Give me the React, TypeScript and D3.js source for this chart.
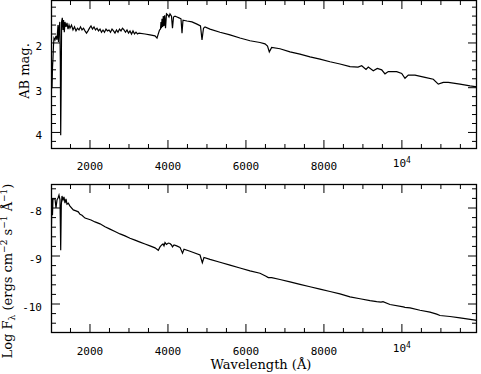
import React from "react";
import * as d3 from "d3";

// upper panel: AB magnitude vs wavelength (Angstrom)
const topWave = [1013, 1026, 1038, 1051, 1064, 1077, 1103, 1128, 1154, 1167, 1180, 1192, 1205, 1226, 1239, 1249, 1262, 1272, 1290, 1308, 1323, 1341, 1359, 1385, 1410, 1436, 1462, 1487, 1526, 1564, 1603, 1641, 1680, 1718, 1757, 1795, 1834, 1872, 1911, 1949, 1987, 2026, 2064, 2103, 2141, 2180, 2218, 2257, 2295, 2334, 2372, 2411, 2449, 2488, 2526, 2565, 2603, 2641, 2680, 2718, 2757, 2795, 2834, 2872, 2911, 2949, 2988, 3026, 3065, 3103, 3142, 3180, 3219, 3257, 3411, 3539, 3667, 3719, 3744, 3783, 3808, 3821, 3834, 3847, 3865, 3880, 3898, 3916, 3937, 3962, 4001, 4026, 4052, 4090, 4116, 4142, 4180, 4232, 4283, 4334, 4360, 4385, 4488, 4616, 4744, 4834, 4873, 4911, 4950, 5078, 5334, 5591, 5847, 6104, 6360, 6488, 6553, 6599, 6660, 6873, 7130, 7386, 7643, 7899, 8156, 8412, 8669, 8874, 8969, 9079, 9138, 9266, 9369, 9482, 9566, 9651, 9866, 9995, 10079, 10164, 10336, 10592, 10805, 10933, 11062, 11190, 11490, 11747, 11926];
const topMag = [2.43, 3.01, 2.56, 2.34, 2.05, 1.89, 1.93, 1.84, 1.93, 1.76, 1.60, 1.98, 1.71, 1.53, 2.38, 4.06, 2.83, 1.53, 1.44, 1.71, 1.49, 1.76, 1.53, 1.64, 1.55, 1.69, 1.60, 1.67, 1.60, 1.71, 1.64, 1.73, 1.67, 1.71, 1.64, 1.71, 1.67, 1.73, 1.78, 1.73, 1.67, 1.62, 1.69, 1.64, 1.71, 1.67, 1.73, 1.69, 1.76, 1.71, 1.76, 1.69, 1.73, 1.71, 1.76, 1.69, 1.73, 1.78, 1.71, 1.76, 1.69, 1.73, 1.67, 1.71, 1.76, 1.71, 1.78, 1.73, 1.80, 1.73, 1.80, 1.76, 1.80, 1.78, 1.80, 1.82, 1.84, 1.89, 1.82, 1.71, 1.69, 1.53, 1.67, 1.46, 1.64, 1.40, 1.62, 1.38, 1.67, 1.35, 1.38, 1.42, 1.35, 1.40, 1.67, 1.42, 1.40, 1.42, 1.44, 1.46, 1.78, 1.49, 1.51, 1.53, 1.58, 1.62, 1.93, 1.67, 1.64, 1.69, 1.76, 1.82, 1.89, 1.95, 1.99, 2.02, 2.07, 2.20, 2.10, 2.13, 2.20, 2.25, 2.31, 2.36, 2.42, 2.47, 2.53, 2.54, 2.51, 2.59, 2.54, 2.62, 2.57, 2.60, 2.69, 2.64, 2.64, 2.68, 2.79, 2.72, 2.72, 2.77, 2.81, 2.92, 2.88, 2.88, 2.92, 2.96, 2.98];

// lower panel: log F_lambda vs wavelength
const botWave = [1013, 1020, 1038, 1051, 1103, 1128, 1154, 1180, 1205, 1231, 1249, 1264, 1282, 1308, 1333, 1359, 1385, 1410, 1444, 1487, 1572, 1641, 1700, 1744, 1795, 1872, 1949, 2026, 2129, 2257, 2385, 2513, 2641, 2770, 2898, 3026, 3154, 3283, 3411, 3539, 3667, 3752, 3796, 3839, 3873, 3898, 3924, 3962, 4009, 4052, 4090, 4116, 4155, 4224, 4309, 4373, 4411, 4565, 4822, 4881, 4924, 5078, 5334, 5591, 5847, 6104, 6360, 6514, 6573, 6660, 6873, 7130, 7386, 7643, 7899, 8156, 8412, 8669, 8925, 9182, 9353, 9464, 9515, 9694, 10036, 10079, 10208, 10464, 10720, 10892, 10977, 11233, 11490, 11926];
const botFlux = [-8.35, -7.79, -8.15, -7.81, -7.81, -8.00, -7.83, -7.79, -7.73, -7.83, -8.88, -7.94, -7.75, -7.83, -7.77, -7.90, -7.81, -7.92, -7.90, -7.96, -8.04, -8.06, -8.08, -8.13, -8.15, -8.21, -8.23, -8.25, -8.29, -8.33, -8.39, -8.44, -8.49, -8.54, -8.58, -8.63, -8.67, -8.71, -8.75, -8.79, -8.83, -8.88, -8.81, -8.77, -8.75, -8.79, -8.72, -8.76, -8.73, -8.74, -8.77, -8.81, -8.77, -8.79, -8.82, -8.94, -8.86, -8.90, -8.98, -9.14, -9.03, -9.07, -9.13, -9.19, -9.25, -9.31, -9.36, -9.42, -9.45, -9.45, -9.49, -9.54, -9.59, -9.64, -9.69, -9.74, -9.79, -9.85, -9.89, -9.93, -9.95, -9.96, -9.95, -10.01, -10.06, -10.07, -10.08, -10.13, -10.17, -10.21, -10.24, -10.26, -10.29, -10.34];

const xMajor = [2000, 4000, 6000, 8000, 10000];
const topYMajor = [2, 3, 4];
const botYMajor = [-8, -9, -10];

const W = 481;
const H = 374;
const L = 51;
const R = 477;
const tickFont = "'DejaVu Sans Mono', monospace";
const titleFont = "'DejaVu Serif', serif";

const x = d3.scaleLinear().domain([1000, 11926]).range([L, R]);

const XLabel = ({ v, y }: { v: number; y: number }) =>
  v === 10000 ? (
    <text x={x(v)} y={y - 3} textAnchor="middle" fontFamily={tickFont} fontSize={11}>
      10<tspan dy={-4} fontSize={8}>4</tspan>
    </text>
  ) : (
    <text x={x(v)} y={y} textAnchor="middle" fontFamily={tickFont} fontSize={11}>
      {v}
    </text>
  );

const Panel = ({ y, waves, vals, yMajor, yMinor, labelY, id }: any) => {
  const [y1, y0] = y.range();
  const line = d3
    .line<number>()
    .x((d, i) => x(waves[i]))
    .y((d) => y(d));
  const xMinor = d3.range(1500, 12000, 500);
  return (
    <g>
      <clipPath id={id}>
        <rect x={L} y={y1} width={R - L} height={y0 - y1} />
      </clipPath>
      <path d={line(vals) || ""} fill="none" stroke="#000" strokeWidth={1.2} clipPath={`url(#${id})`} />
      <rect x={L + 0.5} y={y1 + 0.5} width={R - L - 1} height={y0 - y1 - 1} fill="none" stroke="#000" strokeWidth={1.3} />
      {xMinor.map((v) => {
        const len = v % 2000 === 0 ? 9 : 5;
        return (
          <g key={v}>
            <line x1={x(v)} x2={x(v)} y1={y0} y2={y0 - len} stroke="#000" />
            <line x1={x(v)} x2={x(v)} y1={y1} y2={y1 + len} stroke="#000" />
          </g>
        );
      })}
      {yMinor.map((v: number) => {
        const len = yMajor.includes(v) ? 9 : 5;
        return (
          <g key={v}>
            <line x1={L} x2={L + len} y1={y(v)} y2={y(v)} stroke="#000" />
            <line x1={R} x2={R - len} y1={y(v)} y2={y(v)} stroke="#000" />
          </g>
        );
      })}
      {yMajor.map((v: number) => (
        <text key={v} x={42} y={y(v) + 7} textAnchor="end" fontFamily={tickFont} fontSize={11}>
          {v}
        </text>
      ))}
      {xMajor.map((v) => (
        <XLabel key={v} v={v} y={labelY} />
      ))}
    </g>
  );
};

export default function App() {
  const yTop = d3.scaleLinear().domain([1.04, 4.37]).range([0, 149]);
  const yBot = d3.scaleLinear().domain([-7.5, -10.604]).range([184, 333]);
  const topMinor = d3.range(6, 22).map((i) => i / 5);
  const botMinor = d3.range(-52, -37).map((i) => i / 5);
  return (
    <svg width={W} height={H} style={{ position: "absolute", left: 0, top: 0, background: "#fff" }}>
      <Panel y={yTop} waves={topWave} vals={topMag} yMajor={topYMajor} yMinor={topMinor} labelY={170} id="clipTop" />
      <Panel y={yBot} waves={botWave} vals={botFlux} yMajor={botYMajor} yMinor={botMinor} labelY={355} id="clipBot" />
      <text transform="translate(29,71) rotate(-90)" textAnchor="middle" fontFamily={titleFont} fontSize={13}>
        AB mag.
      </text>
      <text transform="translate(12,271) rotate(-90)" textAnchor="middle" fontFamily={titleFont} fontSize={13}>
        Log F<tspan dy={3} fontSize={9}>λ</tspan>
        <tspan dy={-3}> (ergs cm</tspan>
        <tspan dy={-5} fontSize={9}>−2</tspan>
        <tspan dy={5}> s</tspan>
        <tspan dy={-5} fontSize={9}>−1</tspan>
        <tspan dy={5}> Å</tspan>
        <tspan dy={-5} fontSize={9}>−1</tspan>
        <tspan dy={5}>)</tspan>
      </text>
      <text x={261} y={369} textAnchor="middle" fontFamily={titleFont} fontSize={13}>
        Wavelength (Å)
      </text>
    </svg>
  );
}
